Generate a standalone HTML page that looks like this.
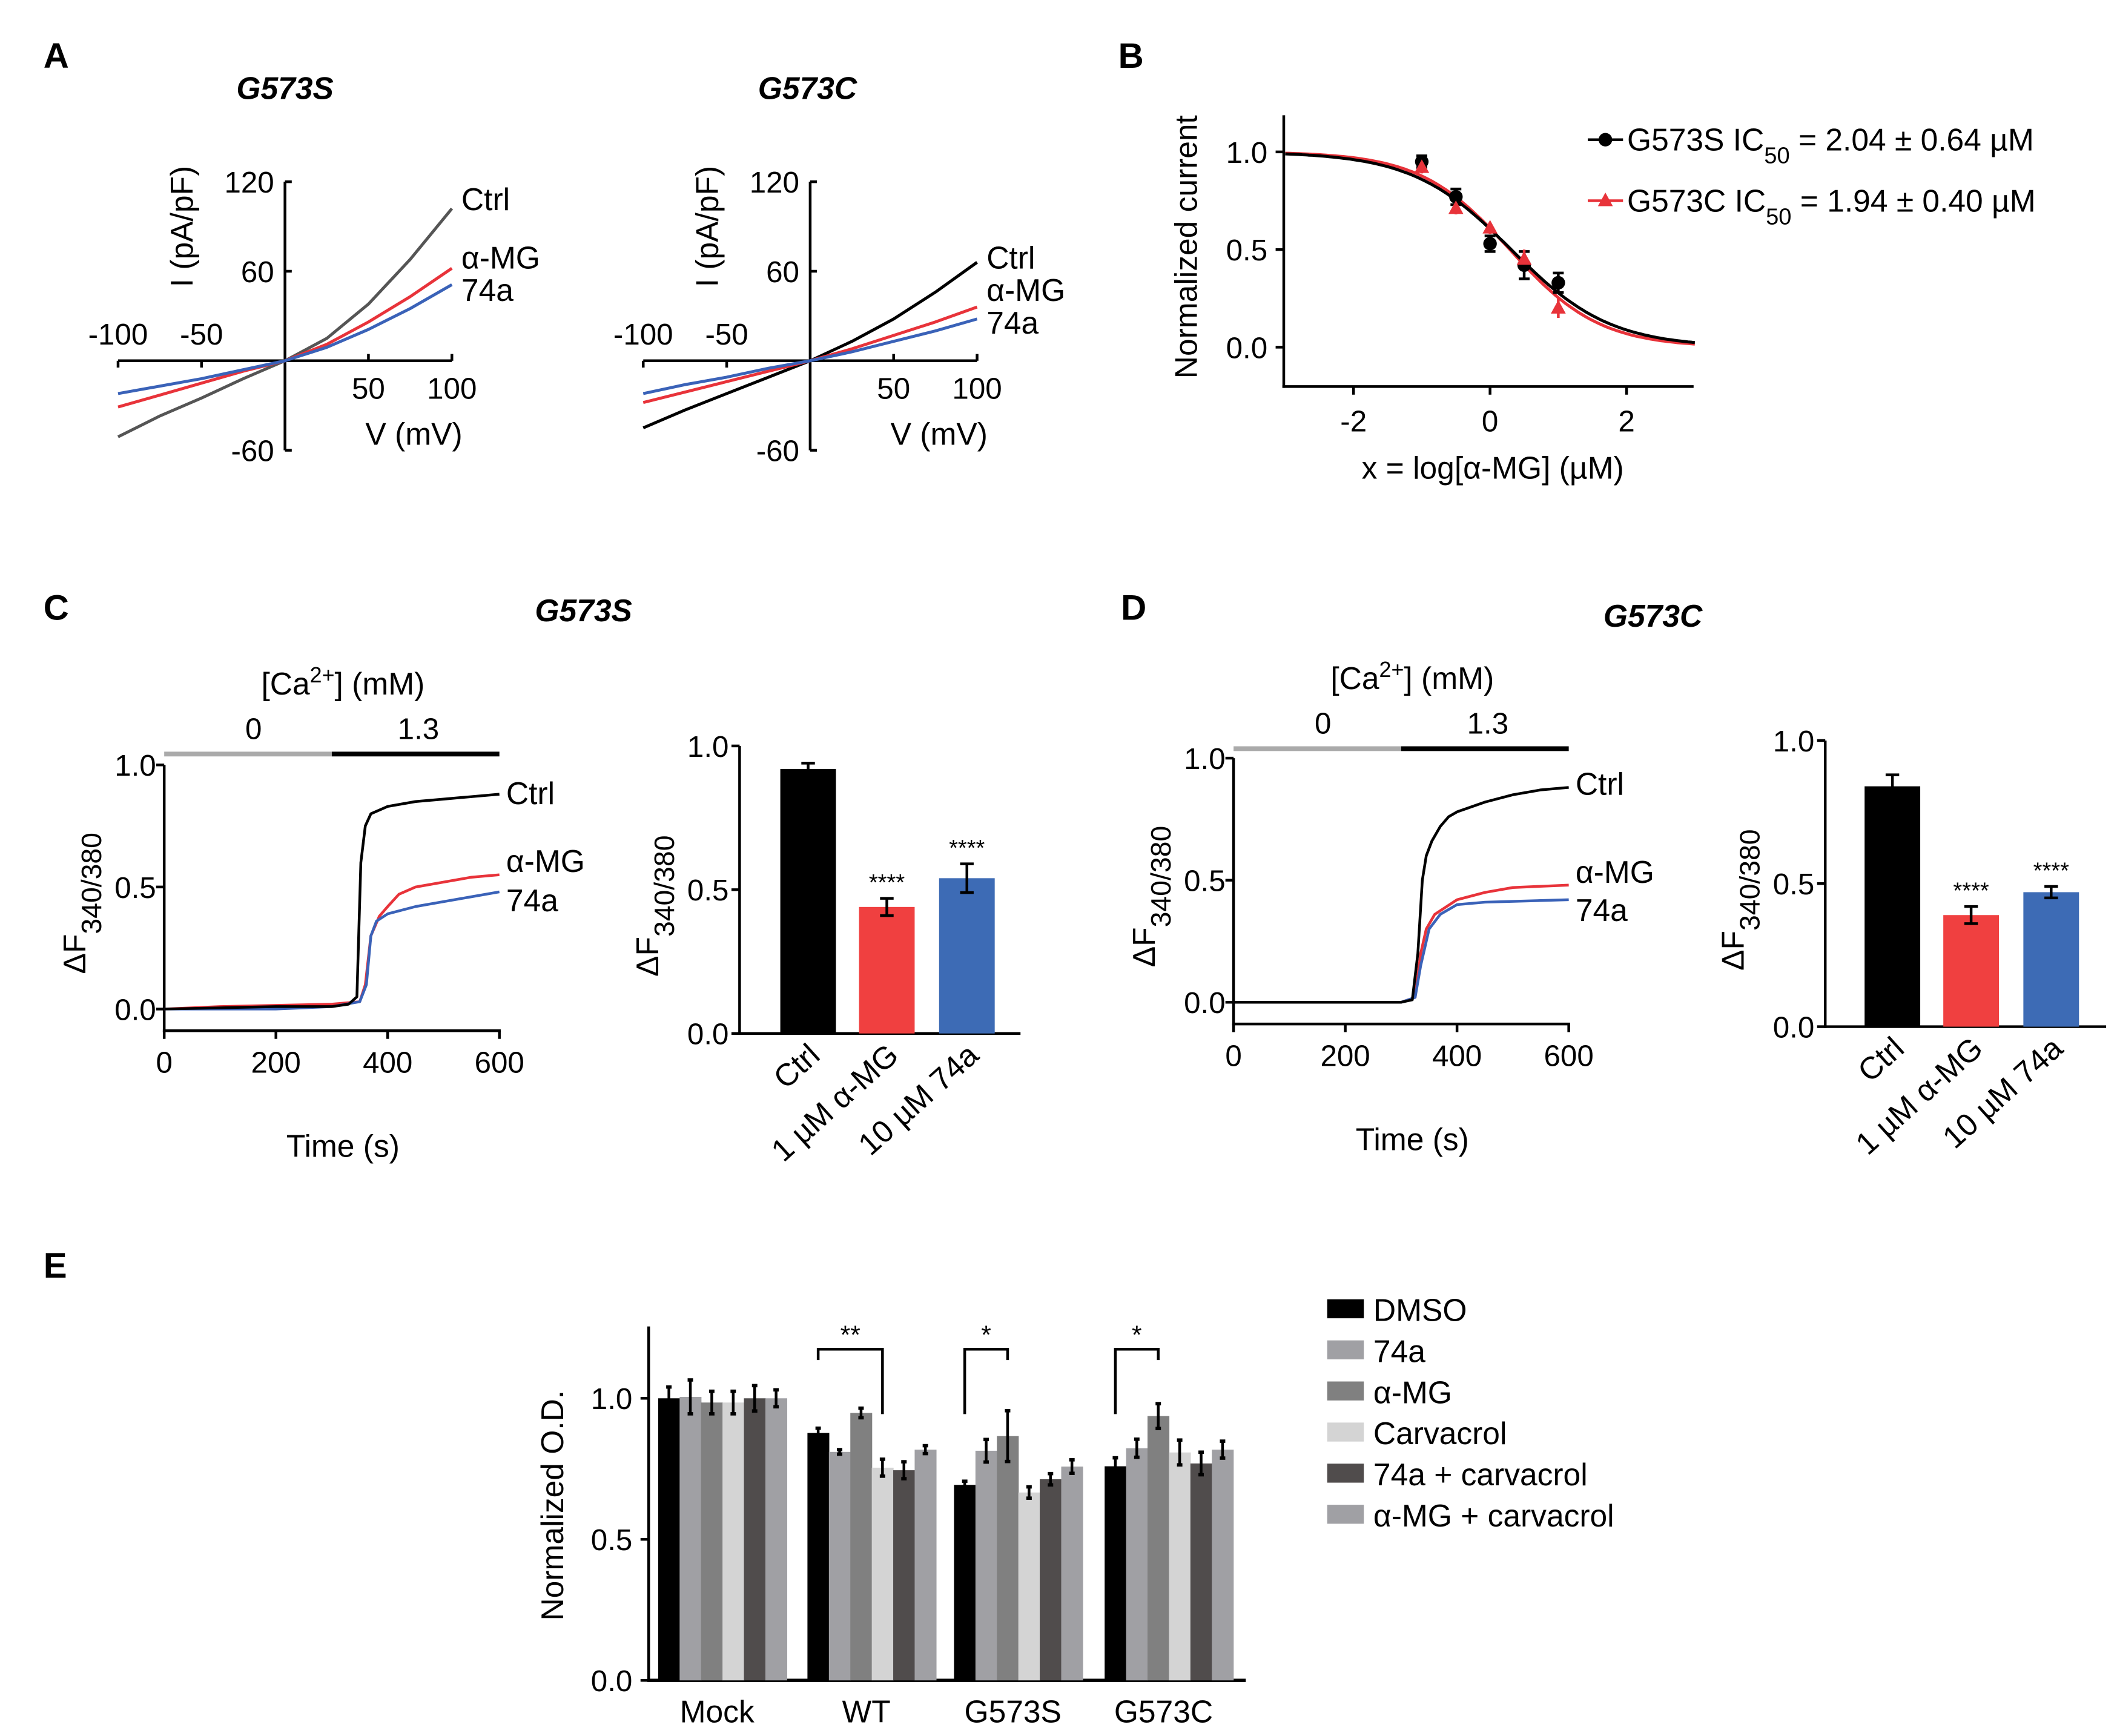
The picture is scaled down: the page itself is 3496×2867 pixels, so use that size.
<!DOCTYPE html>
<html><head><meta charset="utf-8">
<style>
html,body{margin:0;padding:0;background:#fff;}
svg{display:block;font-family:"Liberation Sans",Arial,sans-serif;}
text{fill:#000;}
</style></head>
<body>
<svg id="fig" width="3496" height="2867" viewBox="0 0 1560 1280" preserveAspectRatio="none" xmlns="http://www.w3.org/2000/svg">
<rect width="1560" height="1280" fill="#fff"/>
<text x="32" y="50" font-size="26" font-weight="bold">A</text>
<text x="824" y="50" font-size="26" font-weight="bold">B</text>
<text x="32" y="457" font-size="26" font-weight="bold">C</text>
<text x="826" y="457" font-size="26" font-weight="bold">D</text>
<text x="32" y="942" font-size="26" font-weight="bold">E</text>
<text x="210" y="73" font-size="23" font-weight="bold" font-style="italic" text-anchor="middle">G573S</text>
<text x="595" y="73" font-size="23" font-weight="bold" font-style="italic" text-anchor="middle">G573C</text>
<text x="430" y="458" font-size="23" font-weight="bold" font-style="italic" text-anchor="middle">G573S</text>
<text x="1218" y="462" font-size="23" font-weight="bold" font-style="italic" text-anchor="middle">G573C</text>
<g id="root"></g>
</svg>
<script>
const ivVolt = [-100,-75,-50,-25,0,25,50,75,100];
const ivS_ctrl = [-51,-37,-25,-12,0,15,38,68,102];
const ivS_amg = [-31,-23,-15,-7,0,11,26,43,62];
const ivS_74a = [-22,-17,-12,-6,0,9,21,35,51];
const ivC_ctrl = [-45,-33,-22,-11,0,13,28,46,66];
const ivC_amg = [-28,-21,-14,-7,0,8,17,26,36];
const ivC_74a = [-22,-16,-11,-5,0,6,13,20,28];
const ivXTicks = [-100,-50,50,100];
const ivYTicks = [120,60,-60];
const doseX = [-1,-0.5,0,0.5,1];
const doseS = [0.95,0.77,0.53,0.42,0.33];
const doseSErr = [0.03,0.04,0.04,0.07,0.05];
const doseC = [0.92,0.71,0.61,0.45,0.20];
const doseCErr = [0.03,0.03,0.03,0.05,0.05];
const fitS = [0.31,0.6];
const fitC = [0.29,0.66];
const bXTicks = [-2,0,2];
const bYTicks = [0,0.5,1.0];
const tC_ctrl = [0,100,200,300,330,345,352,360,370,400,450,500,550,600];
const vC_ctrl = [0,0.005,0.01,0.01,0.02,0.05,0.6,0.75,0.8,0.83,0.85,0.86,0.87,0.88];
const tC_amg = [0,100,200,300,350,360,370,385,400,420,450,500,550,600];
const vC_amg = [0,0.01,0.015,0.02,0.03,0.1,0.3,0.38,0.42,0.47,0.5,0.52,0.54,0.55];
const tC_74a = [0,100,200,300,350,362,370,380,400,450,500,550,600];
const vC_74a = [0,0,0,0.01,0.03,0.1,0.3,0.36,0.39,0.42,0.44,0.46,0.48];
const tD_ctrl = [0,100,200,300,320,330,338,345,355,370,385,400,450,500,550,600];
const vD_ctrl = [0,0,0,0,0.01,0.2,0.5,0.6,0.66,0.72,0.76,0.78,0.82,0.85,0.87,0.88];
const tD_amg = [0,100,200,300,325,335,345,360,400,450,500,600];
const vD_amg = [0,0,0,0,0.02,0.2,0.3,0.36,0.42,0.45,0.47,0.48];
const tD_74a = [0,100,200,300,325,335,350,370,400,450,600];
const vD_74a = [0,0,0,0,0.02,0.15,0.3,0.36,0.4,0.41,0.42];
const traceXTicks = [0,200,400,600];
const traceYTicks = [0,0.5,1.0];
const barCats = ["Ctrl","1 µM α-MG","10 µM 74a"];
const barC = [0.92,0.44,0.54];
const barCErr = [0.02,0.03,0.05];
const barD = [0.84,0.39,0.47];
const barDErr = [0.04,0.03,0.02];
const eGroups = ["Mock","WT","G573S","G573C"];
const eSeries = ["DMSO","74a","α-MG","Carvacrol","74a + carvacrol","α-MG + carvacrol"];
const eMock = [1.0,1.005,0.985,0.985,1.0,1.0];
const eWT = [0.877,0.81,0.948,0.754,0.745,0.818];
const eS = [0.693,0.814,0.866,0.666,0.713,0.758];
const eC = [0.759,0.823,0.937,0.808,0.769,0.818];
const eMockErr = [0.04,0.06,0.04,0.04,0.045,0.03];
const eWTErr = [0.017,0.008,0.017,0.03,0.03,0.014];
const eSErr = [0.013,0.04,0.09,0.02,0.02,0.024];
const eCErr = [0.03,0.032,0.044,0.044,0.04,0.03];
const eSig = ["**","*","*"];
const eYTicks = [0,0.5,1.0];

const NS = "http://www.w3.org/2000/svg";
const root = document.getElementById("root");
function mk(tag, attrs, parent){
  const e = document.createElementNS(NS, tag);
  for (const k in attrs) e.setAttribute(k, attrs[k]);
  (parent||root).appendChild(e);
  return e;
}
function txt(x,y,s,size,anchor,parent){
  const t = mk("text",{x:x,y:y,"font-size":size,"text-anchor":anchor||"middle"},parent);
  t.textContent = s;
  return t;
}
function line(x1,y1,x2,y2,w,col,parent){
  return mk("line",{x1:x1,y1:y1,x2:x2,y2:y2,stroke:col||"#000","stroke-width":w||2},parent);
}
function poly(xs,ys,fx,fy,col,w,parent){
  const pts = xs.map((v,i)=>fx(v).toFixed(1)+","+fy(ys[i]).toFixed(1)).join(" ");
  return mk("polyline",{points:pts,fill:"none",stroke:col,"stroke-width":w||2,"stroke-linejoin":"round"},parent);
}
function ylabelF(x,y,size,parent){
  const t = mk("text",{x:x,y:y,"font-size":size,"text-anchor":"middle",transform:`rotate(-90 ${x} ${y})`},parent);
  t.innerHTML = 'ΔF<tspan baseline-shift="sub" font-size="'+(size*0.9)+'">340/380</tspan>';
  return t;
}

function ivPlot(ox, oy, ctrl, amg, a74, name, ctrlCol, labY){
  const g = mk("g",{});
  
  
  const fx = v => ox + v*1.23;
  const fy = v => oy - v*1.1;
  line(fx(-100),oy,fx(100),oy,2,"#000",g);
  line(ox,fy(120),ox,fy(-60),2,"#000",g);
  ivXTicks.forEach(v=>{ line(fx(v),oy,fx(v),oy+(v>0?-5:5),2,"#000",g);
    txt(fx(v), v>0? oy+28 : oy-12, String(v), 22,"middle",g); });
  ivYTicks.forEach(v=>{ line(ox,fy(v),ox+5,fy(v),2,"#000",g);
    txt(ox-8, fy(v)+8, String(v), 22,"end",g); });
  const c1 = poly(ivVolt,ctrl,fx,fy,ctrlCol,2.2,g);
  
  const c2 = poly(ivVolt,amg,fx,fy,"#e8333a",2.2,g);
  
  const c3 = poly(ivVolt,a74,fx,fy,"#3a62b8",2.2,g);
  
  txt(fx(100)+7,labY[0],"Ctrl",23,"start",g);
  txt(fx(100)+7,labY[1],"α-MG",23,"start",g);
  txt(fx(100)+7,labY[2],"74a",23,"start",g);
  txt(ox+95, oy+62, "V (mV)", 23, "middle", g);
  const yl = mk("text",{x:ox-68,y:fy(90),"font-size":23,"text-anchor":"middle",transform:`rotate(-90 ${ox-68} ${fy(90)})`},g);
  yl.textContent = "I (pA/pF)";
}
ivPlot(210,266,ivS_ctrl,ivS_amg,ivS_74a,"iv-plot-g573s","#555",[155,198,222]);
ivPlot(597,266,ivC_ctrl,ivC_amg,ivC_74a,"iv-plot-g573c","#000",[198,222,246]);

(function(){
  const g = mk("g",{});
  
  
  const fx = v => 1098 + v*50.3;
  const fy = v => 256 - v*144;
  line(946,85,946,286,2,"#000",g);
  line(945,285,1248,285,2,"#000",g);
  bXTicks.forEach(v=>{ line(fx(v),285,fx(v),291,2,"#000",g); txt(fx(v),318,String(v),22,"middle",g); });
  bYTicks.forEach(v=>{ line(940,fy(v),946,fy(v),2,"#000",g); txt(934,fy(v)+8,v.toFixed(1),22,"end",g); });
  txt(1100,353,"x = log[α-MG] (µM)",23,"middle",g);
  const yl = mk("text",{x:882,y:182,"font-size":23,"text-anchor":"middle",transform:"rotate(-90 882 182)"},g);
  yl.textContent = "Normalized current";
  function curve(p,col){
    const xs=[],ys=[];
    for(let x=-3;x<=3.001;x+=0.05){xs.push(x);ys.push(1/(1+Math.pow(10,(x-p[0])*p[1])));}
    return poly(xs,ys,fx,fy,col,2.2,g);
  }
  const k1 = curve(fitC,"#e8333a"); 
  const k2 = curve(fitS,"#000"); 
  doseX.forEach((x,i)=>{
    line(fx(x),fy(doseS[i]-doseSErr[i]),fx(x),fy(doseS[i]+doseSErr[i]),2,"#000",g);
    line(fx(x)-4,fy(doseS[i]-doseSErr[i]),fx(x)+4,fy(doseS[i]-doseSErr[i]),2,"#000",g);
    line(fx(x)-4,fy(doseS[i]+doseSErr[i]),fx(x)+4,fy(doseS[i]+doseSErr[i]),2,"#000",g);
    line(fx(x),fy(doseC[i]-doseCErr[i]),fx(x),fy(doseC[i]+doseCErr[i]),2,"#e8333a",g);
    const c = mk("circle",{cx:fx(x),cy:fy(doseS[i]),r:5,fill:"#000"},g);
    
    const t = mk("polygon",{points:`${fx(x)},${fy(doseC[i])-6} ${fx(x)-5.5},${fy(doseC[i])+4} ${fx(x)+5.5},${fy(doseC[i])+4}`,fill:"#e8333a"},g);
    
  });
  line(1170,103,1196,103,2,"#000",g);
  mk("circle",{cx:1183,cy:103,r:5,fill:"#000"},g);
  const l1 = mk("text",{x:1199,y:111,"font-size":23},g);
  l1.innerHTML = 'G573S  IC<tspan baseline-shift="sub" font-size="17">50</tspan> = 2.04 ± 0.64 µM';
  
  line(1170,148,1196,148,2,"#e8333a",g);
  mk("polygon",{points:"1183,142 1177.5,152 1188.5,152",fill:"#e8333a"},g);
  const l2 = mk("text",{x:1199,y:156,"font-size":23},g);
  l2.innerHTML = 'G573C  IC<tspan baseline-shift="sub" font-size="17">50</tspan> = 1.94 ± 0.40 µM';
  
})();

function tracePlot(x0, x600, y0, yAxis, barY, traces, labYs, name){
  const g = mk("g",{});
  
  
  const fx = t => x0 + t*(x600-x0)/600;
  const fy = v => y0 - v*180;
  line(x0,fy(1.0),x0,yAxis+1,2,"#000",g);
  line(x0-1,yAxis,x600+1,yAxis,2,"#000",g);
  traceXTicks.forEach(v=>{ line(fx(v),yAxis,fx(v),yAxis+6,2,"#000",g); txt(fx(v),yAxis+31,String(v),22,"middle",g); });
  traceYTicks.forEach(v=>{ line(x0-6,fy(v),x0,fy(v),2,"#000",g); txt(x0-6,fy(v)+8,v.toFixed(1),22,"end",g); });
  line(fx(0),barY,fx(300),barY,3.5,"#aaa",g);
  line(fx(300),barY,fx(600),barY,3.5,"#000",g);
  txt(fx(160),barY-11,"0",22,"middle",g);
  txt(fx(455),barY-11,"1.3",22,"middle",g);
  const ca = mk("text",{x:fx(320),y:barY-44,"font-size":23,"text-anchor":"middle"},g);
  ca.innerHTML = '[Ca<tspan baseline-shift="super" font-size="16">2+</tspan>] (mM)';
  txt(fx(320), yAxis+93, "Time (s)", 23, "middle", g);
  ylabelF(x0-58, fy(0.5)+12, 23, g);
  const cols = ["#e8333a","#3a62b8","#000"];
  const names = ["trace-amg","trace-74a","trace-ctrl"];
  [1,2,0].forEach(i=>{
    const p = poly(traces[i][0],traces[i][1],fx,fy,i==0?"#000":cols[i-1],2,g);
    
  });
  txt(x600+5,labYs[0],"Ctrl",23,"start",g);
  txt(x600+5,labYs[1],"α-MG",23,"start",g);
  txt(x600+5,labYs[2],"74a",23,"start",g);
}
tracePlot(121,368,744,760,556,[[tC_ctrl,vC_ctrl],[tC_amg,vC_amg],[tC_74a,vC_74a]],[593,643,672],"trace-plot-g573s");
tracePlot(909,1156,739,755,552,[[tD_ctrl,vD_ctrl],[tD_amg,vD_amg],[tD_74a,vD_74a]],[586,651,679],"trace-plot-g573c");

function barPlot(ax, y0, y1, vals, errs, xs, name){
  const g = mk("g",{});
  
  
  const fy = v => y0 - v*(y0-y1);
  line(ax,fy(1.0),ax,y0+1,2,"#000",g);
  line(ax-1,y0,ax+207,y0,2,"#000",g);
  traceYTicks.forEach(v=>{ line(ax-6,fy(v),ax,fy(v),2,"#000",g); txt(ax-8,fy(v)+8,v.toFixed(1),22,"end",g); });
  ylabelF(ax-60, fy(0.5)+12, 23, g);
  const cols = ["#000","#f04040","#3d6bb5"];
  vals.forEach((v,i)=>{
    const r = mk("rect",{x:xs[i],y:fy(v),width:41,height:y0-fy(v),fill:cols[i]},g);
    
    const cx = xs[i]+20.5;
    line(cx,fy(v-errs[i]),cx,fy(v+errs[i]),2,"#000",g);
    line(cx-5,fy(v-errs[i]),cx+5,fy(v-errs[i]),2,"#000",g);
    line(cx-5,fy(v+errs[i]),cx+5,fy(v+errs[i]),2,"#000",g);
    if(i>0) txt(cx,fy(v+errs[i])-6,"****",17,"middle",g);
    const lx = cx+10, ly = y0+18;
    const t = mk("text",{x:lx,y:ly,"font-size":23,"text-anchor":"end",transform:`rotate(-42 ${lx} ${ly})`},g);
    t.textContent = barCats[i];
  });
}
barPlot(545,762,550,barC,barCErr,[575,633,692],"bar-chart-g573s");
barPlot(1345,757,546,barD,barDErr,[1374,1432,1491],"bar-chart-g573c");

(function(){
  const g = mk("g",{});
  
  
  const y0 = 1239, k = 208;
  const fy = v => y0 - v*k;
  line(478,978,478,y0+1,2,"#000",g);
  line(477,y0,918,y0,2.5,"#000",g);
  eYTicks.forEach(v=>{ line(472,fy(v),478,fy(v),2,"#000",g); txt(466,fy(v)+8,v.toFixed(1),22,"end",g); });
  const yl = mk("text",{x:415,y:1110,"font-size":23,"text-anchor":"middle",transform:"rotate(-90 415 1110)"},g);
  yl.textContent = "Normalized O.D.";
  const cols = ["#000","#a0a0a4","#808080","#d4d4d4","#504c4c","#a0a0a4"];
  const starts = [485,595,703,814];
  const vals = [eMock,eWT,eS,eC], errs = [eMockErr,eWTErr,eSErr,eCErr];
  const bw = 15.8;
  vals.forEach((arr,gi)=>{
    arr.forEach((v,i)=>{
      const x = starts[gi]+i*bw;
      const r = mk("rect",{x:x,y:fy(v),width:bw+0.3,height:y0-fy(v),fill:cols[i]},g);
      
      const cx = x+bw/2, e = errs[gi][i];
      line(cx,fy(v-e),cx,fy(v+e),2,"#000",g);
      line(cx-2,fy(v-e),cx+2,fy(v-e),2.5,"#000",g);
      line(cx-2,fy(v+e),cx+2,fy(v+e),2.5,"#000",g);
    });
    txt(starts[gi]+3*bw-4, 1270, eGroups[gi], 23, "middle", g);
  });
  const top = fy(1.174);
  [[1,0,3,true],[2,0,2,false],[3,0,2,false]].forEach((b,j)=>{
    const gi=b[0];
    const xa = starts[gi]+b[1]*bw+bw/2, xb = starts[gi]+b[2]*bw+bw/2;
    const low = fy(0.944);
    const lA = b[3]? top+8 : low, lB = b[3]? low : top+8;
    const p = mk("polyline",{points:`${xa},${lA} ${xa},${top} ${xb},${top} ${xb},${lB}`,fill:"none",stroke:"#000","stroke-width":2},g);
    
    txt((xa+xb)/2, top-4, eSig[j], 19, "middle", g);
  });
  eSeries.forEach((s,i)=>{
    const y = 965 + i*30.3;
    const r = mk("rect",{x:978,y:y-7,width:27,height:14,fill:cols[i]},g);
    
    const t = txt(1012,y+9,s,23,"start",g);
    
  });
})();
</script>
</body></html>
